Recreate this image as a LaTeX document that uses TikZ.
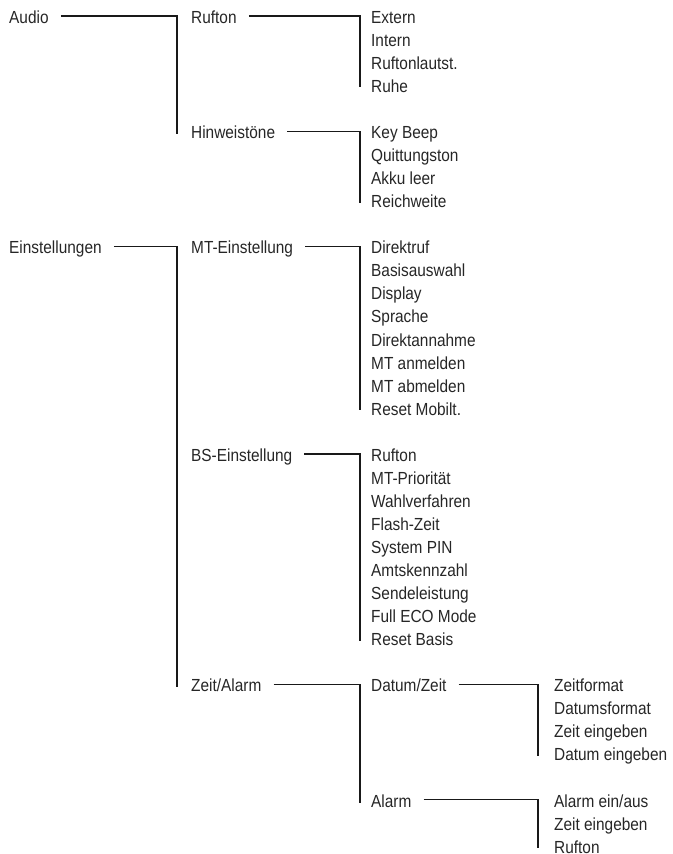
\documentclass[tikz,border=0pt]{standalone}
\usepackage{fontspec}
\setmainfont{Liberation Sans}[FakeStretch=0.88]
\usepackage{tikz}
\usetikzlibrary{positioning}

\begin{document}
\fontsize{17.5}{21}\selectfont
\begin{tikzpicture}
[every node/.style={inner sep=0pt, anchor=base west, text=black!85},
 link/.style={line width=1.2pt, color=black!90}]
\useasboundingbox (0pt, 0pt) rectangle (672pt, -854pt);
% first level
\node (audio) at (9pt, -23.3pt) {Audio};
\node (einst) at (9pt, -253.8pt) {Einstellungen};
% second level
\node (rufton) at (191pt, -23.3pt) {Rufton};
\node (hinw) at (191pt, -138.55pt) {Hinweistöne};
\node (mtein) at (191pt, -253.8pt) {MT-Einstellung};
\node (bsein) at (191pt, -461.25pt) {BS-Einstellung};
\node (zeital) at (191pt, -691.75pt) {Zeit/Alarm};
% third level
\node (extern) at (371pt, -23.3pt) {Extern};
\node (intern) at (371pt, -46.35pt) {Intern};
\node (laut) at (371pt, -69.4pt) {Ruftonlautst.};
\node (ruhe) at (371pt, -92.45pt) {Ruhe};
\node (beep) at (371pt, -138.55pt) {Key Beep};
\node (quitt) at (371pt, -161.6pt) {Quittungston};
\node (akku) at (371pt, -184.65pt) {Akku leer};
\node (reichw) at (371pt, -207.7pt) {Reichweite};
\node (direkt) at (371pt, -253.8pt) {Direktruf};
\node (basis) at (371pt, -276.85pt) {Basisauswahl};
\node (display) at (371pt, -299.9pt) {Display};
\node (sprache) at (371pt, -322.95pt) {Sprache};
\node (annahme) at (371pt, -346.0pt) {Direktannahme};
\node (anmeld) at (371pt, -369.05pt) {MT anmelden};
\node (abmeld) at (371pt, -392.1pt) {MT abmelden};
\node (resmob) at (371pt, -415.15pt) {Reset Mobilt.};
\node (bsruf) at (371pt, -461.25pt) {Rufton};
\node (prio) at (371pt, -484.3pt) {MT-Priorität};
\node (wahl) at (371pt, -507.35pt) {Wahlverfahren};
\node (flash) at (371pt, -530.4pt) {Flash-Zeit};
\node (pin) at (371pt, -553.45pt) {System PIN};
\node (amts) at (371pt, -576.5pt) {Amtskennzahl};
\node (sende) at (371pt, -599.55pt) {Sendeleistung};
\node (eco) at (371pt, -622.6pt) {Full ECO Mode};
\node (resbas) at (371pt, -645.65pt) {Reset Basis};
\node (datum) at (371pt, -691.75pt) {Datum/Zeit};
\node (alarm) at (371pt, -807.0pt) {Alarm};
% fourth level
\node (zfmt) at (554pt, -691.75pt) {Zeitformat};
\node (dfmt) at (554pt, -714.8pt) {Datumsformat};
\node (zein) at (554pt, -737.85pt) {Zeit eingeben};
\node (dein) at (554pt, -760.9pt) {Datum eingeben};
\node (aein) at (554pt, -807.0pt) {Alarm ein/aus};
\node (azein) at (554pt, -830.05pt) {Zeit eingeben};
\node (aruf) at (554pt, -853.1pt) {Rufton};
% brackets
\draw [link] ([xshift=12pt, yshift=7.3pt]audio.base east) -| ([xshift=-14pt, yshift=4.5pt]hinw.base west);
\draw [link] ([xshift=12pt, yshift=7.3pt]einst.base east) -| ([xshift=-14pt, yshift=4.5pt]zeital.base west);
\draw [link] ([xshift=12pt, yshift=7.3pt]rufton.base east) -| ([xshift=-11pt, yshift=5pt]ruhe.base west);
\draw [link] ([xshift=12pt, yshift=7.3pt]hinw.base east) -| ([xshift=-11pt, yshift=5pt]reichw.base west);
\draw [link] ([xshift=12pt, yshift=7.3pt]mtein.base east) -| ([xshift=-11pt, yshift=5pt]resmob.base west);
\draw [link] ([xshift=12pt, yshift=7.3pt]bsein.base east) -| ([xshift=-11pt, yshift=5pt]resbas.base west);
\draw [link] ([xshift=12pt, yshift=7.3pt]zeital.base east) -| ([xshift=-11pt, yshift=4.5pt]alarm.base west);
\draw [link] ([xshift=12pt, yshift=7.3pt]datum.base east) -| ([xshift=-16pt, yshift=5pt]dein.base west);
\draw [link] ([xshift=12pt, yshift=7.3pt]alarm.base east) -| ([xshift=-16pt, yshift=5pt]aruf.base west);
\end{tikzpicture}
\end{document}
